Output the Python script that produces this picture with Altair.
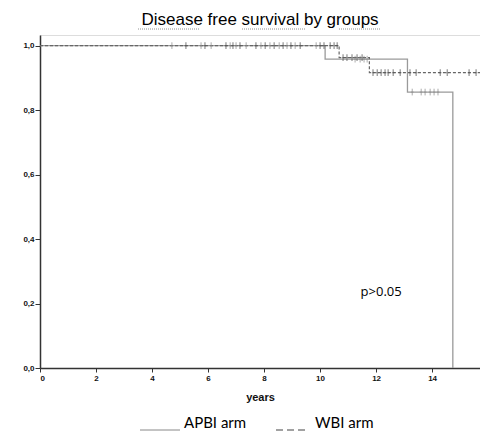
import altair as alt
import pandas as pd

# Step curves (time in years, survival)
apbi_t = [0, 10.18, 13.12, 14.74]
apbi_s = [1.0, 0.958, 0.856, 0.0]
wbi_t = [0, 10.68, 11.76, 15.8]
wbi_s = [1.0, 0.963, 0.916, 0.916]

# Censor marks
apbi_cens_t = [4.71, 5.75, 6.11, 6.79, 7.0, 7.36, 7.89, 8.21, 8.54, 8.82, 9.11, 9.86,
               11.25, 11.43, 11.57, 11.68, 13.29, 13.61, 13.75, 13.93, 14.07, 14.21]
apbi_cens_s = [1.0] * 12 + [0.958] * 4 + [0.856] * 6
wbi_cens_t = [5.21, 5.89, 6.64, 6.89, 7.14, 7.71, 8.04, 8.36, 8.68, 8.96, 9.29, 10.0,
              10.14, 10.36, 10.5, 10.61, 10.82, 10.96, 11.14, 11.32, 11.5,
              11.89, 12.04, 12.18, 12.32, 12.43, 12.61, 12.86, 13.21, 13.43, 14.29,
              14.54, 15.32, 15.57]
wbi_cens_s = [1.0] * 16 + [0.963] * 5 + [0.916] * 13

x_ticks = [0, 2, 4, 6, 8, 10, 12, 14]
y_ticks = [0.0, 0.2, 0.4, 0.6, 0.8, 1.0]
title_text = "Disease free survival by groups"
x_title = "years"
annot_text = ["p>0.05"]
annot_x = [12.18]
annot_y = [0.236]
legend_labels = ["APBI arm", "WBI arm"]

APBI_COL = "#9a9a9a"
WBI_COL = "#666666"

apbi = pd.DataFrame({"t": apbi_t, "s": apbi_s})
wbi = pd.DataFrame({"t": wbi_t, "s": wbi_s})
apbi_c = pd.DataFrame({"t": apbi_cens_t, "s": apbi_cens_s})
wbi_c = pd.DataFrame({"t": wbi_cens_t, "s": wbi_cens_s})

xs = alt.Scale(domain=[0, 15.71], nice=False, zero=False)
ys = alt.Scale(domain=[0, 1.033], nice=False)

xax = alt.Axis(values=x_ticks, title=x_title, labelFont="Liberation Sans", labelFontSize=8,
               labelFontWeight="bold", labelColor="#111", titleFont="Liberation Sans",
               titleFontSize=11, titleFontWeight="bold", titleColor="#111", titlePadding=9,
               grid=False, domainColor="#333", domainWidth=1.5, tickColor="#333",
               tickSize=4, labelPadding=2)
yax = alt.Axis(values=y_ticks, title=None, labelFont="Liberation Sans", labelFontSize=8,
               labelFontWeight="bold", labelColor="#111", grid=False, domainColor="#333",
               domainWidth=1.5, tickColor="#333", tickSize=5, labelPadding=1,
               labelExpr="replace(format(datum.value, '.1f'), '.', ',')")

base_x = alt.X("t:Q", scale=xs, axis=xax)
base_y = alt.Y("s:Q", scale=ys, axis=yax)

l_apbi = alt.Chart(apbi).mark_line(interpolate="step-after", color=APBI_COL, strokeWidth=1.3,
                                   clip=True).encode(x=base_x, y=base_y)
l_wbi = alt.Chart(wbi).mark_line(interpolate="step-after", color=WBI_COL, strokeWidth=1.2,
                                 strokeDash=[3, 2], clip=True).encode(x="t:Q", y="s:Q")
c_apbi = alt.Chart(apbi_c).mark_point(shape="M0,-1L0,1M-0.4,0L0.4,0", size=45, color="#8a8a8a",
                                      strokeWidth=1, clip=True).encode(x="t:Q", y="s:Q")
c_wbi = alt.Chart(wbi_c).mark_point(shape="M0,-1L0,1M-0.4,0L0.4,0", size=45, color="#555555",
                                    strokeWidth=1.1, clip=True).encode(x="t:Q", y="s:Q")

annot = alt.Chart(pd.DataFrame({"t": annot_x, "s": annot_y, "txt": annot_text})).mark_text(
    font="Open Sans", fontSize=13, color="#000", align="center", baseline="middle"
).encode(x="t:Q", y="s:Q", text="txt:N")

# Title and underlines
ttl = alt.Chart(pd.DataFrame({"txt": [title_text]})).mark_text(
    font="Liberation Sans", fontSize=17, color="#000", align="center", baseline="alphabetic"
).encode(x=alt.value(220), y=alt.value(-10), text="txt:N")
ul = alt.Chart(pd.DataFrame({"a": [98, 202, 299], "b": [160, 265, 340]})).mark_rule(
    color="#777", strokeWidth=0.8, strokeDash=[1, 1]
).encode(x=alt.X("a:Q", scale=None), x2="b:Q", y=alt.value(-6))

# Legend (manual)
leg_txt = alt.Chart(pd.DataFrame({"txt": legend_labels, "px": [144, 275]})).mark_text(
    font="Lato", fontSize=15, color="#000", align="left", baseline="alphabetic"
).encode(x=alt.X("px:Q", scale=None), y=alt.value(393), text="txt:N")
leg_l1 = alt.Chart(pd.DataFrame({"a": [100], "b": [140]})).mark_rule(
    color="#888", strokeWidth=1
).encode(x=alt.X("a:Q", scale=None), x2="b:Q", y=alt.value(395))
leg_l2 = alt.Chart(pd.DataFrame({"a": [236], "b": [267]})).mark_rule(
    color="#444", strokeWidth=1.2, strokeDash=[7, 4]
).encode(x=alt.X("a:Q", scale=None), x2="b:Q", y=alt.value(395))

chart = alt.layer(l_apbi, l_wbi, c_apbi, c_wbi, annot, ttl, ul, leg_txt, leg_l1, leg_l2).properties(
    width=440, height=333,
    autosize=alt.AutoSizeParams(type="none"),
    padding={"left": 40, "top": 35, "right": 0, "bottom": 66},
).configure_view(stroke="#555", strokeWidth=1.3).configure(background="white")

chart.save("out.html", embed_options={"renderer": "svg", "actions": False})
